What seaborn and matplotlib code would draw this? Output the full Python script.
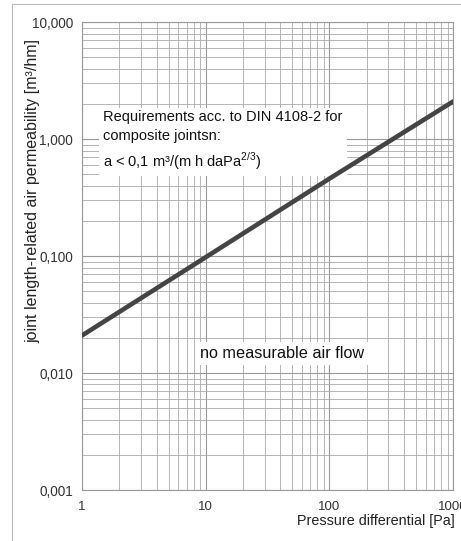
import numpy as np
import pandas as pd
import seaborn as sns
import matplotlib.pyplot as plt
from matplotlib.lines import Line2D
from matplotlib.ticker import FixedLocator, NullFormatter

# data (slope 2/3 on log-log)
pressure = [1, 10, 100, 1000]
permeability = [0.021, 0.098, 0.46, 2.1]

x_ticks = [1, 10, 100, 1000]
x_tick_labels = ["1", "10", "100", "1000"]
y_ticks = [0.001, 0.01, 0.1, 1, 10]
y_tick_labels = ["0,001", "0,010", "0,100", "1,000", "10,000"]

sns.set_style("white")
plt.rcParams['font.family'] = ['Liberation Sans', 'DejaVu Sans']

fig = plt.figure(figsize=(4.61, 5.41), dpi=100)
ax = fig.add_axes([0.178, 0.094, 0.805, 0.865])

df = pd.DataFrame({"pressure": pressure, "permeability": permeability})
sns.lineplot(data=df, x="pressure", y="permeability", ax=ax,
             color="#444444", linewidth=3.3, zorder=7)

ax.set_xscale("log")
ax.set_yscale("log")
ax.set_xlim(1, 1000)
ax.set_ylim(0.001, 10)

ax.xaxis.set_major_locator(FixedLocator(x_ticks))
ax.set_xticklabels(x_tick_labels)
ax.yaxis.set_major_locator(FixedLocator(y_ticks))
ax.set_yticklabels(y_tick_labels)
minor = [m * 10.0 ** e for e in range(-3, 3) for m in range(2, 10)]
ax.xaxis.set_minor_locator(FixedLocator([v for v in minor if 1 < v < 1000]))
ax.yaxis.set_minor_locator(FixedLocator([v for v in minor if 0.001 < v < 10]))
ax.xaxis.set_minor_formatter(NullFormatter())
ax.yaxis.set_minor_formatter(NullFormatter())

ax.grid(True, which="major", color="#999999", linewidth=0.8)
ax.grid(True, which="minor", color="#aaaaaa", linewidth=0.6)
for s in ax.spines.values():
    s.set_color("#999999")
    s.set_linewidth(0.8)

ax.tick_params(axis="y", which="major", length=5, width=0.8, color="#888888",
               labelsize=9.8, labelcolor="#333333", pad=1.5)
ax.tick_params(axis="x", which="major", length=3, width=0.8, color="#888888",
               labelsize=9.5, labelcolor="#333333", pad=5)
ax.tick_params(which="minor", length=0)

ax.set_xlabel("Pressure differential [Pa]", fontsize=10.4, color="#222222",
              ha="right")
ax.xaxis.set_label_coords(1.005, -0.051)
ax.set_ylabel("joint length-related air permeability [m³/hm]", fontsize=11.5,
              color="#222222")
ax.yaxis.set_label_coords(-0.112, 0.64)

ax.text(0.057, 0.812,
        "Requirements acc. to DIN 4108-2 for\ncomposite jointsn:\n"
        r"a < 0,1 m³/(m h daPa$^{\mathregular{2/3}}$)",
        transform=ax.transAxes, fontsize=10.5, va="top", ha="left",
        linespacing=1.45, color="#111111", zorder=6,
        bbox=dict(facecolor="white", edgecolor="none", pad=3))
ax.text(0.318, 0.292, "no measurable air flow", transform=ax.transAxes,
        fontsize=11.7, va="center", ha="left", color="#111111", zorder=6,
        bbox=dict(facecolor="white", edgecolor="none", pad=3))

# light frame around the picture
fig.add_artist(Line2D([12 / 461, 1], [1 - 4 / 541, 1 - 4 / 541],
                      transform=fig.transFigure, color="#bbbbbb", lw=0.8))
fig.add_artist(Line2D([12 / 461, 12 / 461], [0, 1 - 4 / 541],
                      transform=fig.transFigure, color="#bbbbbb", lw=0.8))

fig.savefig("out.png", dpi=100)
